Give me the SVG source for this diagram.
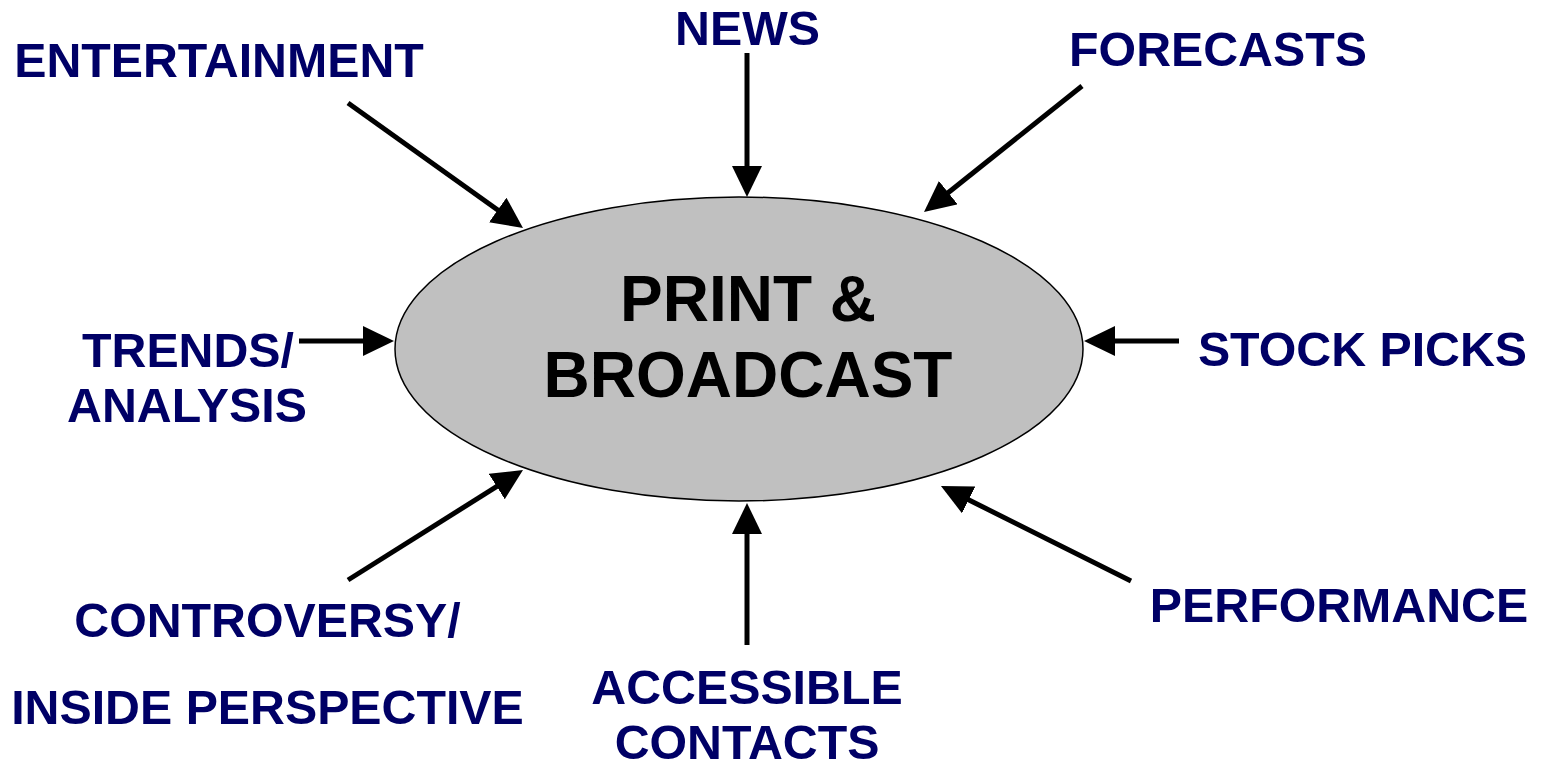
<svg xmlns="http://www.w3.org/2000/svg" width="1545" height="763" viewBox="0 0 1545 763">
<style>
.lbl{font-family:"Liberation Sans",Arial,sans-serif;font-weight:bold;font-size:48.3px;fill:#000066;text-anchor:middle}
.ctr{font-family:"Liberation Sans",Arial,sans-serif;font-weight:bold;font-size:64px;fill:#000000;text-anchor:middle}
.arr{stroke:#000;stroke-width:5;fill:none;marker-end:url(#ah)}
</style>
<defs>
<marker id="ah" markerUnits="userSpaceOnUse" markerWidth="32" markerHeight="31" refX="3" refY="15" orient="auto">
<path d="M0,0 L31,15 L0,30 z" fill="#000"/>
</marker>
</defs>
<rect width="1545" height="763" fill="#fff"/>
<g id="center">
<ellipse cx="739" cy="349" rx="344" ry="152" fill="#C0C0C0" stroke="#000" stroke-width="1.5"/>
<text class="ctr" x="748" y="321">PRINT &amp;</text>
<text class="ctr" x="748" y="397">BROADCAST</text>
</g>
<g id="connectors">
<line class="arr" x1="348" y1="103" x2="500.2" y2="211.7"/>
<line class="arr" x1="747" y1="53" x2="747" y2="169"/>
<line class="arr" x1="1082" y1="86" x2="945.9" y2="194.5"/>
<line class="arr" x1="299" y1="341" x2="366" y2="341"/>
<line class="arr" x1="1179" y1="341" x2="1112" y2="341"/>
<line class="arr" x1="348" y1="580" x2="499.3" y2="484.9"/>
<line class="arr" x1="747" y1="645" x2="747" y2="531"/>
<line class="arr" x1="1131" y1="581" x2="966" y2="498.5"/>
</g>
<g id="entertainment"><text class="lbl" x="219" y="77">ENTERTAINMENT</text></g>
<g id="news"><text class="lbl" x="747.5" y="45">NEWS</text></g>
<g id="forecasts"><text class="lbl" x="1218" y="66">FORECASTS</text></g>
<g id="trends"><text class="lbl" x="188" y="367">TRENDS/</text><text class="lbl" x="187" y="422">ANALYSIS</text></g>
<g id="stockpicks"><text class="lbl" x="1362.5" y="366">STOCK PICKS</text></g>
<g id="controversy"><text class="lbl" x="267.5" y="637">CONTROVERSY/</text><text class="lbl" x="267.5" y="724">INSIDE PERSPECTIVE</text></g>
<g id="accessible"><text class="lbl" x="747" y="704">ACCESSIBLE</text><text class="lbl" x="747" y="759">CONTACTS</text></g>
<g id="performance"><text class="lbl" x="1339" y="622">PERFORMANCE</text></g>
</svg>
